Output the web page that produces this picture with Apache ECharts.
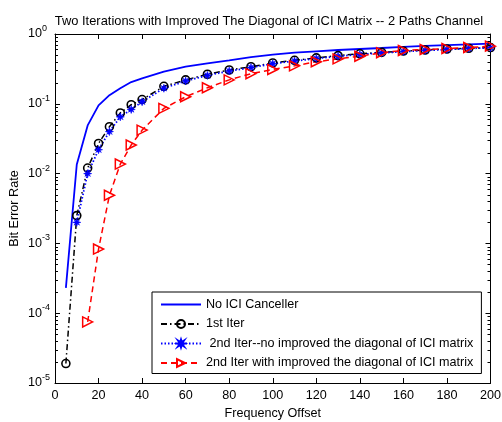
<!DOCTYPE html>
<html>
<head>
<meta charset="utf-8">
<script src="https://cdn.jsdelivr.net/npm/echarts@6/dist/echarts.min.js"></script>
<style>html,body{margin:0;padding:0;background:#fff}#c{width:502px;height:422px}</style>
</head>
<body>
<div id="c"></div>
<script>
// ---- data ----
var freqOffset = [5,10,15,20,25,30,35,40,50,60,70,80,90,100,110,120,130,140,150,160,170,180,190,200];
var noIciCanceller = [2.3e-4,1.35e-2,0.049,0.095,0.133,0.167,0.205,0.232,0.29,0.34,0.38,0.42,0.465,0.505,0.54,0.565,0.59,0.61,0.63,0.655,0.675,0.695,0.71,0.73];
var firstIter = [1.9e-5,2.5e-3,1.2e-2,2.7e-2,4.7e-2,7.4e-2,9.7e-2,0.115,0.178,0.22,0.265,0.305,0.34,0.385,0.42,0.455,0.49,0.52,0.545,0.57,0.59,0.61,0.625,0.64];
var secondIterNoImp = [null,2.0e-3,1.0e-2,2.2e-2,4.0e-2,6.5e-2,8.3e-2,0.107,0.167,0.212,0.255,0.295,0.33,0.375,0.41,0.445,0.48,0.51,0.535,0.56,0.58,0.6,0.62,0.635];
var secondIterImp = [null,null,7.5e-5,8.3e-4,4.9e-3,1.37e-2,2.57e-2,4.2e-2,8.6e-2,0.126,0.17,0.22,0.27,0.31,0.35,0.40,0.44,0.48,0.54,0.58,0.6,0.62,0.64,0.67];
var seriesNames = ['No ICI Canceller','1st Iter',' 2nd Iter--no improved the diagonal of ICI matrix','2nd Iter with improved the diagonal of ICI matrix'];
var titleText = 'Two Iterations with Improved The Diagonal of ICI Matrix -- 2 Paths Channel';
var xName = 'Frequency Offset';
var yName = 'Bit Error Rate';
var xRange = [0, 200];
var yRange = [1e-5, 1];

// minor tick values of the log axis (2..9 in every decade)
var minorVals = [];
for (var d = -5; d < 0; d++) for (var k = 2; k <= 9; k++) minorVals.push(k * Math.pow(10, d));

function pairs(ys){ return freqOffset.map(function(x,i){ return [x, ys[i]]; }); }

var FONT = 'Liberation Sans, Arial, Helvetica, sans-serif';
var FS = 12.6;
var chart = echarts.init(document.getElementById('c'), null, {renderer:'canvas'});
var star = 'path://M0,-5 L1,-1.8 L3.5,-3.5 L1.8,-1 L5,0 L1.8,1 L3.5,3.5 L1,1.8 L0,5 L-1,1.8 L-3.5,3.5 L-1.8,1 L-5,0 L-1.8,-1 L-3.5,-3.5 L-1,-1.8 Z';

function baseX(pos, labels){
  return {type:'value', position:pos, min:xRange[0], max:xRange[1], interval:20,
    axisLine:{show:true, onZero:false, lineStyle:{color:'#000', width:1}},
    axisTick:{show:true, inside:true, length:5, lineStyle:{color:'#000', width:1}},
    axisLabel:{show:labels, color:'#000', fontSize:FS, fontFamily:FONT, margin:6},
    splitLine:{show:false}};
}
function baseY(pos, labels){
  return {type:'log', logBase:10, position:pos, min:yRange[0], max:yRange[1],
    axisLine:{show:true, onZero:false, lineStyle:{color:'#000', width:1}},
    axisTick:{show:true, inside:true, length:5, lineStyle:{color:'#000', width:1}},
    axisLabel:{show:labels, color:'#000', fontFamily:FONT, align:'left', margin:27,
      formatter:function(v){ var e = Math.round(Math.log10(v)); return '{b|10}{s|' + e + '}'; },
      rich:{b:{fontSize:FS, fontFamily:FONT, color:'#000'}, s:{fontSize:9, fontFamily:FONT, color:'#000', padding:[0,0,11,0]}}},
    splitLine:{show:false}};
}

var xAxes = [baseX('bottom', true), baseX('top', false)];
xAxes[0].name = xName;
xAxes[0].nameLocation = 'middle';
xAxes[0].nameGap = 24;
xAxes[0].nameTextStyle = {color:'#000', fontSize:FS, fontFamily:FONT};
var yAxes = [baseY('left', true), baseY('right', false)];
yAxes[0].name = yName;
yAxes[0].nameLocation = 'middle';
yAxes[0].nameGap = 34;
yAxes[0].nameMoveOverlap = false;
yAxes[0].nameTextStyle = {color:'#000', fontSize:FS, fontFamily:FONT};

var legendData = seriesNames.map(function(n, i){
  return i === 0 ? {name:n, itemStyle:{color:'rgba(0,0,0,0)', borderWidth:0}} : {name:n};
});

// minor ticks: [x at plot edge, value, direction inward]
var minorTickData = minorVals.map(function(v){ return [xRange[0], v, 1]; })
  .concat(minorVals.map(function(v){ return [xRange[1], v, -1]; }));

chart.setOption({
  animation:false,
  backgroundColor:'#fff',
  title:{text:titleText, left:264, top:10, textAlign:'center',
    textStyle:{fontSize:12.9, fontWeight:'normal', color:'#000', fontFamily:FONT}},
  grid:{left:55, right:11.5, top:34, bottom:39, containLabel:false, outerBoundsMode:'none'},
  xAxis:xAxes,
  yAxis:yAxes,
  legend:{orient:'vertical', left:152, top:292, align:'left', itemWidth:40, itemHeight:10, itemGap:6.5,
    padding:[6,8,4,8], borderColor:'#000', borderWidth:1, backgroundColor:'#fff', borderRadius:0,
    textStyle:{fontSize:FS, color:'#000', fontFamily:FONT},
    data:legendData},
  series:[
    {name:'minorTicks', type:'custom', data:minorTickData, silent:true, clip:false, z:10,
      encode:{x:0, y:1},
      renderItem:function(params, api){
        var p = api.coord([api.value(0), api.value(1)]);
        var dir = api.value(2);
        var y = Math.round(p[1]) + 0.5;
        return {type:'line', shape:{x1:p[0], y1:y, x2:p[0] + dir * 3, y2:y}, style:{stroke:'#000', lineWidth:1}};
      }},
    {name:seriesNames[0], type:'line', data:pairs(noIciCanceller), symbol:'none', lineStyle:{color:'#0000ff', width:1.8}, itemStyle:{color:'#0000ff'}},
    {name:seriesNames[1], type:'line', data:pairs(firstIter), symbol:'circle', symbolSize:8, showAllSymbol:true,
      lineStyle:{color:'#000', width:1.5, type:[6,3,1.5,3]}, itemStyle:{color:'rgba(0,0,0,0)', borderColor:'#000', borderWidth:1.6}},
    {name:seriesNames[2], type:'line', data:pairs(secondIterNoImp), symbol:star, symbolSize:8, showAllSymbol:true,
      lineStyle:{color:'#0000ff', width:1.8, type:[1.5,2]}, itemStyle:{color:'#0000ff', borderColor:'#0000ff', borderWidth:0.6}},
    {name:seriesNames[3], type:'line', data:pairs(secondIterImp), symbol:'triangle', symbolRotate:-90, symbolSize:10, showAllSymbol:true,
      lineStyle:{color:'#ff0000', width:1.5, type:[6,4]}, itemStyle:{color:'rgba(0,0,0,0)', borderColor:'#ff0000', borderWidth:1.5}}
  ]
});
</script>
</body>
</html>
